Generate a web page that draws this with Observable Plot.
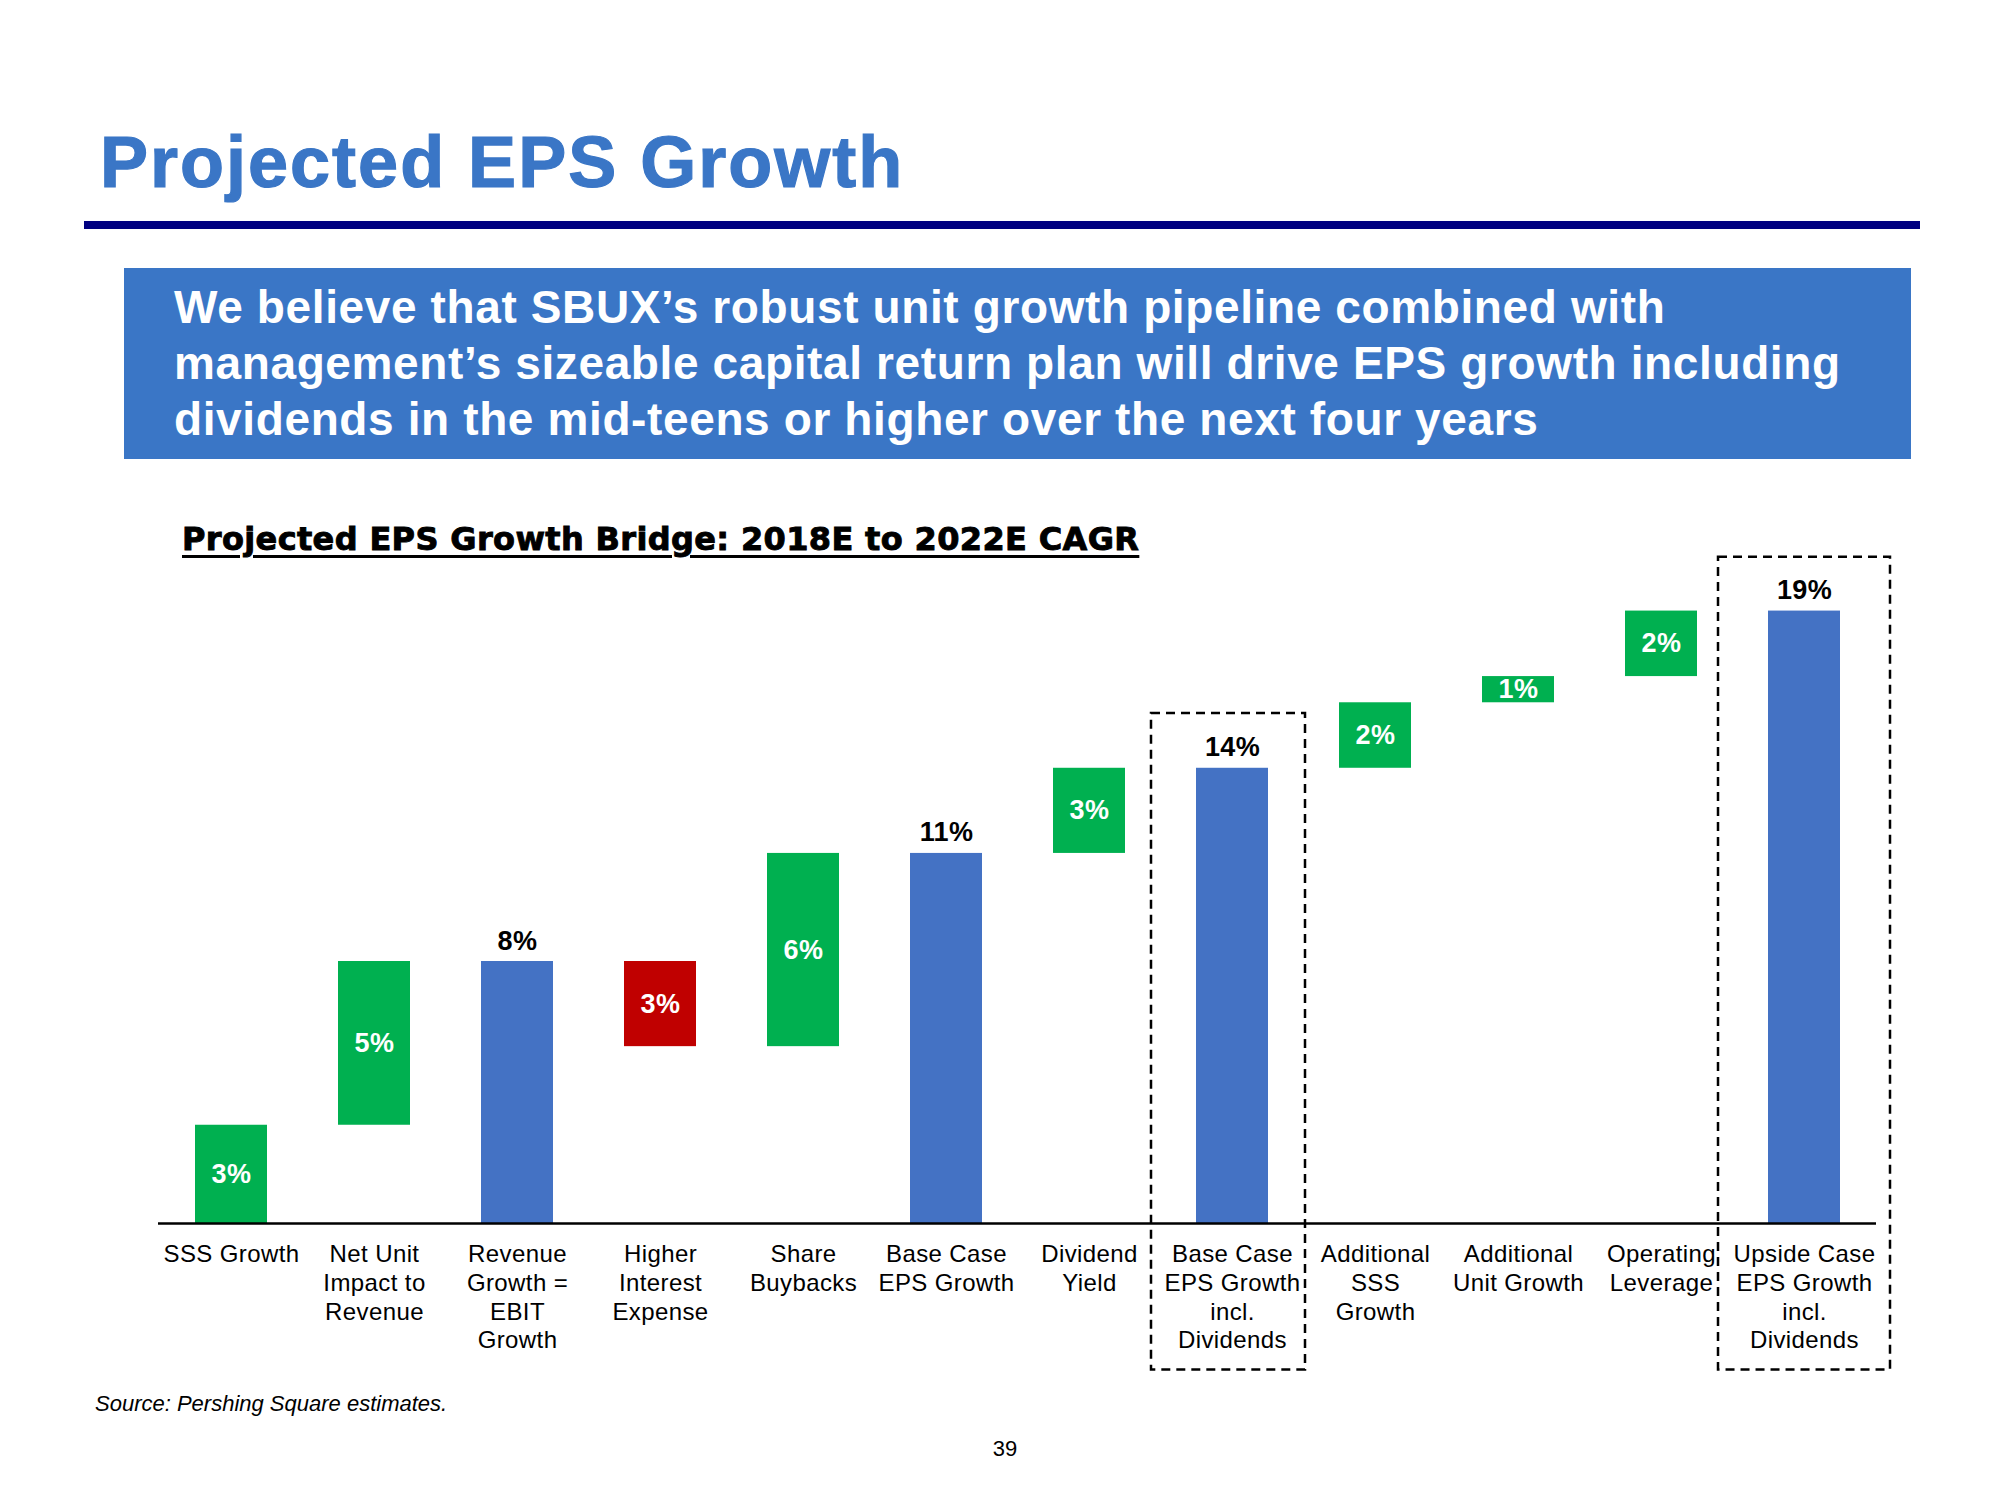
<!DOCTYPE html>
<html>
<head>
<meta charset="utf-8">
<script src="https://cdn.jsdelivr.net/npm/d3@7"></script>
<script src="https://cdn.jsdelivr.net/npm/@observablehq/plot@0.6"></script>
<style>
  html, body { margin: 0; padding: 0; background: #fff; }
  body { width: 2000px; height: 1500px; position: relative; overflow: hidden;
         font-family: "Liberation Sans", Arial, Helvetica, sans-serif; }
  .abs { position: absolute; }
  #title { left: 100px; top: 126px; font-size: 72px; line-height: 72px; font-weight: bold;
           color: #3A76C6; letter-spacing: 2px; white-space: nowrap; -webkit-text-stroke: 1.2px #3A76C6; }
  #rule { left: 84px; top: 221px; width: 1836px; height: 8px; background: #000080; }
  #banner { left: 124px; top: 268px; width: 1787px; height: 191px; background: #3A76C6; color: #fff;
            font-weight: bold; font-size: 46px; line-height: 56px; letter-spacing: 0.62px;
            box-sizing: border-box; padding: 11px 0 0 50px; white-space: nowrap; }
  #chart { left: 0; top: 520px; }
  #subtitle { left: 182px; top: 523px; font-family: "DejaVu Sans", sans-serif; font-weight: bold;
              font-size: 32px; line-height: 32px; color: #000; white-space: nowrap; letter-spacing: 0.35px;
              text-decoration: underline; text-decoration-thickness: 3px; text-underline-offset: 5px;
              -webkit-text-stroke: 0.9px #000; }
  #source { left: 95px; top: 1393px; font-style: italic; font-size: 22px; line-height: 22px; color: #000; white-space: nowrap; }
  #page { left: 905px; width: 200px; top: 1438px; text-align: center; font-size: 22px; line-height: 22px; color: #000; }
</style>
</head>
<body>
<div id="title" class="abs">Projected EPS Growth</div>
<div id="rule" class="abs"></div>
<div id="banner" class="abs">We believe that SBUX’s robust unit growth pipeline combined with<br>management’s sizeable capital return plan will drive EPS growth including<br>dividends in the mid-teens or higher over the next four years</div>
<div id="chart" class="abs"></div>
<div id="subtitle" class="abs">Projected EPS Growth Bridge: 2018E to 2022E CAGR</div>
<div id="source" class="abs">Source: Pershing Square estimates.</div>
<div id="page" class="abs">39</div>
<script>
// ---- data ----
const categories = [
  "SSS Growth",
  "Net Unit\nImpact to\nRevenue",
  "Revenue\nGrowth =\nEBIT\nGrowth",
  "Higher\nInterest\nExpense",
  "Share\nBuybacks",
  "Base Case\nEPS Growth",
  "Dividend\nYield",
  "Base Case\nEPS Growth\nincl.\nDividends",
  "Additional\nSSS\nGrowth",
  "Additional\nUnit Growth",
  "Operating\nLeverage",
  "Upside Case\nEPS Growth\nincl.\nDividends"
];
const values = [3.0, 5.0, 8.0, -2.6, 5.9, 11.3, 2.6, 13.9, 2.0, 0.8, 2.0, 18.7];
const kinds = ["step", "step", "total", "step", "step", "total", "step", "total", "step", "step", "step", "total"];
const valueLabels = ["3%", "5%", "8%", "3%", "6%", "11%", "3%", "14%", "2%", "1%", "2%", "19%"];
const boxed = [false, false, false, false, false, false, false, true, false, false, false, true];

// ---- build waterfall table ----
let running = 0;
const rows = categories.map((c, i) => {
  const v = values[i];
  let a, b;
  if (kinds[i] === "total") { a = 0; b = v; running = v; }
  else { a = running; b = running + v; running += v; }
  return {category: c, value: v, kind: kinds[i], label: valueLabels[i],
          y1: Math.min(a, b), y2: Math.max(a, b), boxed: boxed[i], i};
});
const steps = rows.filter(d => d.kind === "step");
const totals = rows.filter(d => d.kind === "total");
const boxRows = rows.filter(d => d.boxed);

const GREEN = "#00B050", RED = "#C00000", BLUE = "#4472C4";
const boxStyle = {fill: "none", stroke: "#000", strokeWidth: 2.5, strokeDasharray: "9,6"};

const chart = Plot.plot({
  width: 2000,
  height: 900,
  marginLeft: 158,
  marginRight: 124,
  marginTop: 48,
  marginBottom: 197,
  style: {fontFamily: "'Liberation Sans', Arial, Helvetica, sans-serif", background: "transparent", letterSpacing: "0.4px", color: "#000"},
  x: {domain: categories, paddingInner: 0.5, paddingOuter: 0.25, axis: null},
  y: {domain: [0, 20], axis: null},
  marks: [
    Plot.barY(rows, {x: "category", y1: "y1", y2: "y2",
      fill: d => d.kind === "total" ? BLUE : (d.value < 0 ? RED : GREEN)}),
    Plot.ruleY([0], {stroke: "#000", strokeWidth: 2.5}),
    Plot.barY(boxRows.slice(0, 1), {x: "category", y1: () => -4.47, y2: d => d.y2 + 1.67,
      insetLeft: -45, insetRight: -37, ...boxStyle}),
    Plot.barY(boxRows.slice(1), {x: "category", y1: () => -4.47, y2: d => d.y2 + 1.64,
      insetLeft: -50, insetRight: -50, ...boxStyle}),
    Plot.text(steps, {x: "category", y: d => (d.y1 + d.y2) / 2, text: "label",
      fill: "#fff", fontWeight: "bold", fontSize: 27}),
    Plot.text(totals, {x: "category", y: "y2", text: "label", lineAnchor: "bottom", dy: -12,
      fill: "#000", fontWeight: "bold", fontSize: 27}),
    Plot.text(rows, {x: "category", y: () => 0, text: "category", lineAnchor: "top", dy: 18,
      lineHeight: 1.2, fill: "#000", fontSize: 24})
  ]
});
document.getElementById("chart").appendChild(chart);
</script>
</body>
</html>
